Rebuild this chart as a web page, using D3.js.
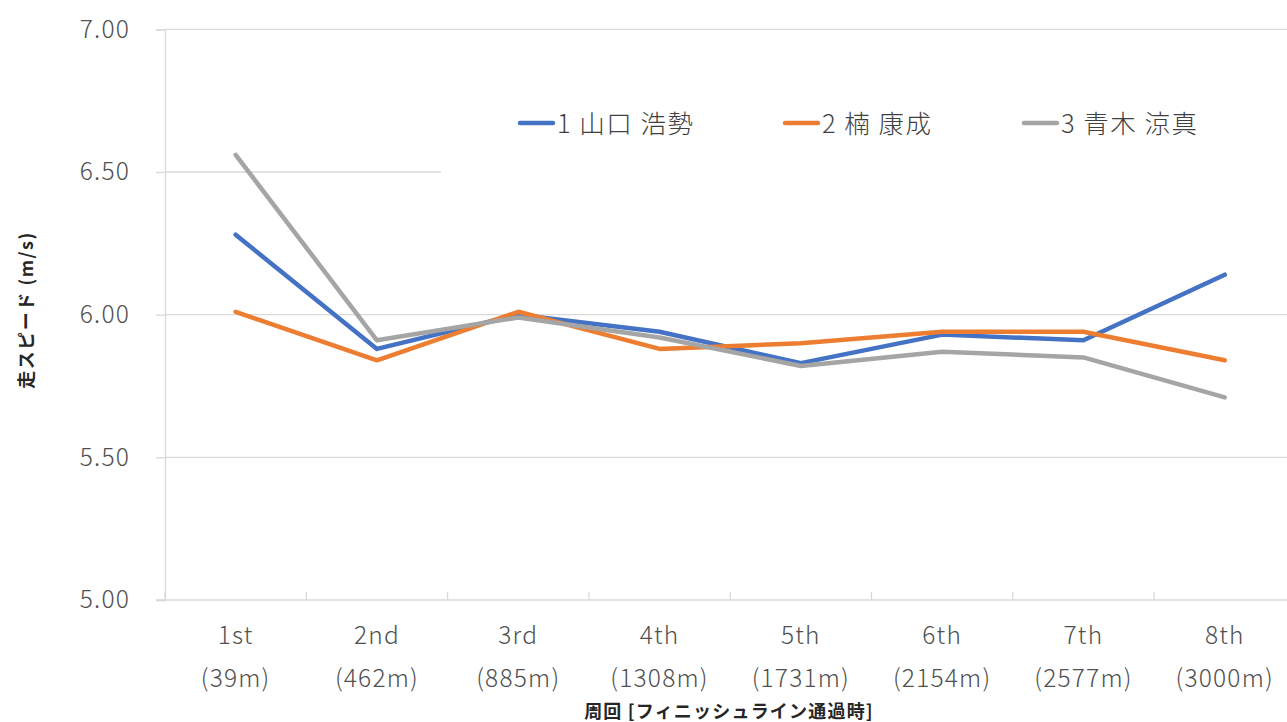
<!DOCTYPE html>
<html><head><meta charset="utf-8">
<script src="https://cdn.jsdelivr.net/npm/d3@7"></script>
<style>
html,body{margin:0;padding:0;background:#fff;overflow:hidden;}
svg{display:block;font-family:"Noto Sans CJK JP","Noto Sans",sans-serif;}
</style></head>
<body>
<svg id="chart" width="1287" height="722"></svg>
<script>
const laps = ["1st","2nd","3rd","4th","5th","6th","7th","8th"];
const distances = ["(39m)","(462m)","(885m)","(1308m)","(1731m)","(2154m)","(2577m)","(3000m)"];
const seriesNames = ["1 山口 浩勢","2 楠 康成","3 青木 涼真"];
const seriesColors = ["#4472C4","#ED7D31","#A5A5A5"];
const yamaguchi = [6.28,5.88,6.00,5.94,5.83,5.93,5.91,6.14];
const kusunoki  = [6.01,5.84,6.01,5.88,5.90,5.94,5.94,5.84];
const aoki      = [6.56,5.91,5.99,5.92,5.82,5.87,5.85,5.71];
const yTicks = [5.00,5.50,6.00,6.50,7.00];
const yTitle = "走スピード (m/s)";
const xTitle = "周回 [フィニッシュライン通過時]";

const series = [yamaguchi,kusunoki,aoki];
const svg = d3.select("#chart");
const pLeft = 165, pTop = 29.3, pBottom = 600, pRight = 1295.4;

const x = d3.scaleBand().domain(laps).range([pLeft,pRight]).padding(0);
const y = d3.scaleLinear().domain([5,7]).range([pBottom,pTop]);
const cx = d => x(d)+x.bandwidth()/2;

// y axis with gridline stubs
const yAxis = d3.axisLeft(y).tickValues(yTicks).tickSize(9).tickFormat(d3.format(".2f")).tickPadding(26);
const gy = svg.append("g").attr("transform",`translate(${pLeft},0)`).call(yAxis);
gy.select(".domain").attr("stroke","#D9D9D9").attr("stroke-width",1.3);
gy.selectAll(".tick line").attr("stroke","#D9D9D9").attr("stroke-width",1.3);
gy.selectAll(".tick text").attr("fill","#505050").attr("font-size",24.5).attr("letter-spacing",1.2)
  .attr("font-family","'Noto Sans CJK JP',sans-serif").attr("font-weight",300);
svg.append("g").selectAll("line").data(yTicks.filter(t=>t>5)).join("line")
  .attr("x1",pLeft).attr("x2",1287).attr("y1",d=>y(d)).attr("y2",d=>y(d))
  .attr("stroke","#D9D9D9").attr("stroke-width",1.3);

// x axis
const xAxis = d3.axisBottom(x).tickSize(0).tickFormat("");
const gx = svg.append("g").attr("transform",`translate(0,${pBottom})`).call(xAxis);
gx.select(".domain").attr("stroke","#D9D9D9").attr("stroke-width",1.3).attr("d",`M${pLeft-9},0H${1287}`);
svg.append("g").selectAll("line").data(laps).join("line")
  .attr("x1",d=>x(d)).attr("x2",d=>x(d)).attr("y1",pBottom).attr("y2",pBottom-8)
  .attr("stroke","#D9D9D9").attr("stroke-width",1.3);
const xl = svg.append("g").selectAll("text").data(laps).join("text")
  .attr("x",d=>cx(d)).attr("text-anchor","middle").attr("fill","#505050")
  .attr("font-size",24.5).attr("letter-spacing",1.2).attr("font-weight",300);
xl.append("tspan").attr("x",d=>cx(d)).attr("y",644).text(d=>d);
xl.append("tspan").attr("x",d=>cx(d)).attr("y",687).text((d,i)=>distances[i]);

// axis titles
svg.append("text").attr("x",729).attr("y",718).attr("text-anchor","middle")
  .attr("font-size",18).attr("letter-spacing",1.2).attr("font-weight",700).attr("fill","#262626").text(xTitle);
svg.append("text").attr("transform","translate(33,310) rotate(-90)").attr("text-anchor","middle")
  .attr("font-size",18).attr("letter-spacing",1.5).attr("font-weight",700).attr("fill","#262626").text(yTitle);

// legend background
svg.append("rect").attr("x",441).attr("y",85).attr("width",846).attr("height",95).attr("fill","#fff");

// lines
const line = d3.line().x((d,i)=>cx(laps[i])).y(d=>y(d));
svg.append("g").selectAll("path").data(series).join("path")
  .attr("d",line).attr("fill","none").attr("stroke",(d,i)=>seriesColors[i])
  .attr("stroke-width",4.5).attr("stroke-linejoin","round").attr("stroke-linecap","round");

// legend
const legX = [520,785,1024];
const lg = svg.append("g").selectAll("g").data(seriesNames).join("g")
  .attr("transform",(d,i)=>`translate(${legX[i]},123)`);
lg.append("line").attr("x1",0).attr("x2",33).attr("y1",0).attr("y2",0)
  .attr("stroke",(d,i)=>seriesColors[i]).attr("stroke-width",4.5).attr("stroke-linecap","round");
lg.append("text").attr("x",37).attr("y",10).attr("font-size",25.5).attr("letter-spacing",1.5).attr("font-weight",300)
  .attr("fill","#404040").text(d=>d);
</script>
</body></html>
